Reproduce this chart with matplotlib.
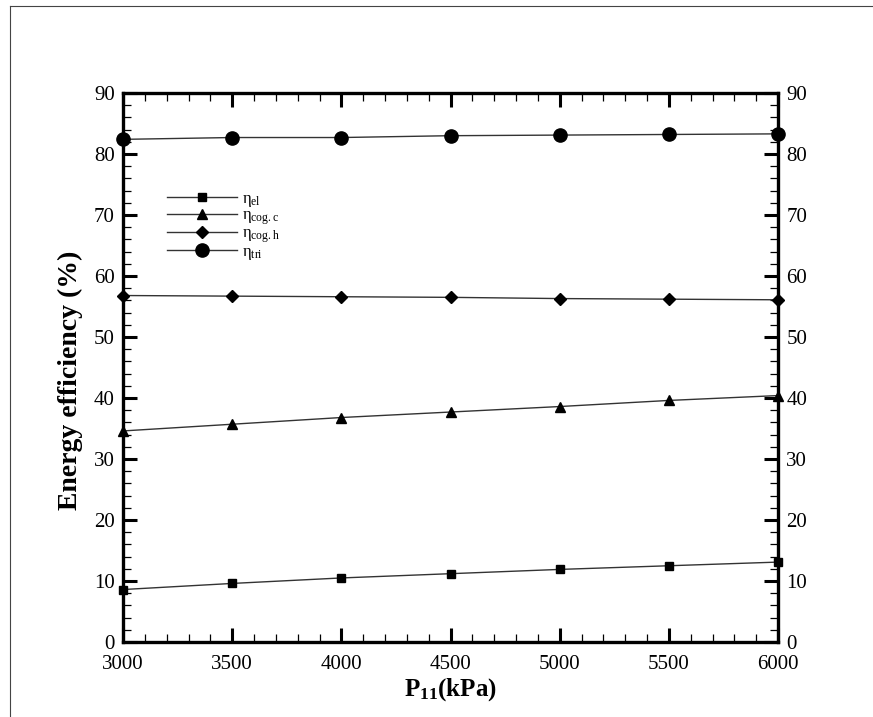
import matplotlib
matplotlib.use('Agg')
import matplotlib.pyplot as plt
from matplotlib.lines import Line2D

plt.rcParams['font.family'] = 'Liberation Serif'
plt.rcParams['mathtext.fontset'] = 'custom'
plt.rcParams['mathtext.rm'] = 'Liberation Serif'
plt.rcParams['mathtext.it'] = 'Liberation Serif:italic'
plt.rcParams['mathtext.bf'] = 'Liberation Serif:bold'

# pressure P11 in kPa
pressure = [3000, 3500, 4000, 4500, 5000, 5500, 6000]

# energy efficiencies in %
eta_el = [8.6, 9.6, 10.5, 11.2, 11.9, 12.5, 13.1]
eta_cogc = [34.6, 35.7, 36.8, 37.7, 38.6, 39.6, 40.4]
eta_cogh = [56.8, 56.7, 56.6, 56.5, 56.3, 56.2, 56.1]
eta_tri = [82.4, 82.7, 82.7, 83.0, 83.1, 83.2, 83.3]

labels = [r'η$_{\rm el}$', r'η$_{\rm cog.c}$', r'η$_{\rm cog.h}$', r'η$_{\rm tri}$']

fig = plt.figure(figsize=(8.73, 7.17), dpi=100)
ax = fig.add_axes([0.1409, 0.1046, 0.7503, 0.7657])

line_kw = dict(color='#333333', linewidth=1.0, markerfacecolor='black',
               markeredgecolor='black', clip_on=False)
ax.plot(pressure, eta_el, marker='s', markersize=6, label=labels[0], **line_kw)
ax.plot(pressure, eta_cogc, marker='^', markersize=7, label=labels[1], **line_kw)
ax.plot(pressure, eta_cogh, marker='D', markersize=6, label=labels[2], **line_kw)
ax.plot(pressure, eta_tri, marker='o', markersize=9.5, label=labels[3], **line_kw)

ax.set_xlim(3000, 6000)
ax.set_ylim(0, 90)
ax.set_xticks(range(3000, 6001, 500))
ax.set_xticks(range(3000, 6001, 100), minor=True)
ax.set_yticks(range(0, 91, 10))
ax.set_yticks(range(0, 91, 2), minor=True)

ax.tick_params(which='both', direction='in', top=True, right=True,
               labelright=True, labelsize=15, colors='black')
ax.tick_params(which='major', length=10, width=2.2)
ax.tick_params(which='minor', length=6, width=0.9)
ax.tick_params(axis='y', which='major', pad=6)
ax.tick_params(axis='x', which='major', pad=9)
for s in ax.spines.values():
    s.set_linewidth(2.4)

ax.set_xlabel(r'$\mathbf{P_{11}(kPa)}$', fontsize=18, labelpad=2)
ax.set_ylabel('Energy efficiency (%)', fontsize=20, fontweight='bold')
ax.yaxis.set_label_coords(-0.061, 0.477)

ax.legend(loc='upper left', bbox_to_anchor=(0.055, 0.837), frameon=False,
          fontsize=12, handlelength=4.2, handletextpad=0.3, labelspacing=-0.08,
          borderpad=0)

# thin page frame
fig.add_artist(Line2D([10 / 873, 10 / 873], [0, 1 - 6 / 717], color='#444444', linewidth=0.8))
fig.add_artist(Line2D([10 / 873, 1], [1 - 6 / 717, 1 - 6 / 717], color='#444444', linewidth=0.8))

fig.savefig('out.png', dpi=100, facecolor='white')
